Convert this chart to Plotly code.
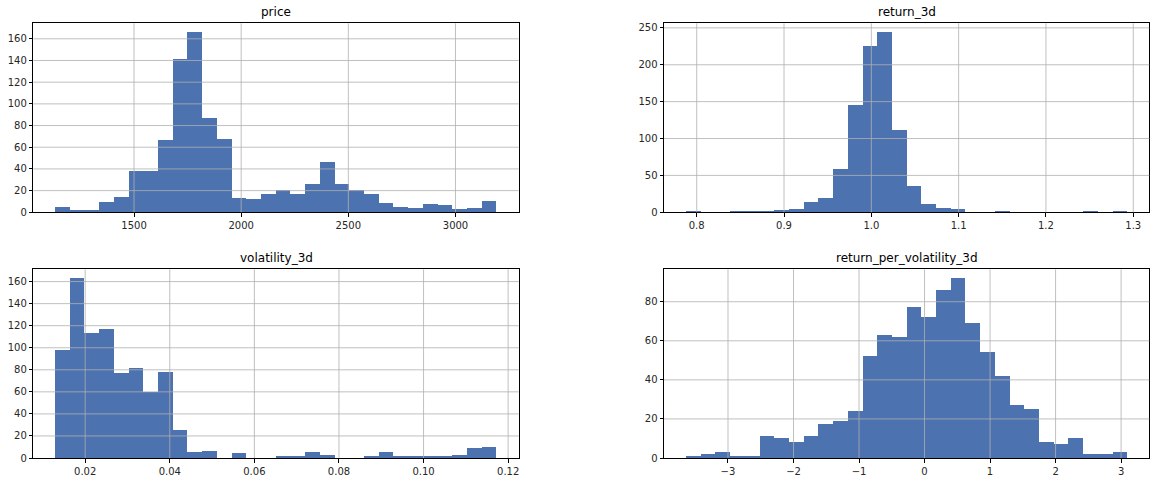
import numpy as np
import plotly.graph_objects as go

# ---- data (pandas-style 30-bin histograms) ----
price_range = [1133.0, 3192.0]
price_counts = [5, 1, 1, 9, 14, 38, 38, 66, 141, 166, 87, 67, 13, 12, 17,
                20, 17, 26, 46, 26, 20, 17, 8, 5, 4, 7, 6, 3, 4, 10]

return_range = [0.7878, 1.2931]
return_counts = [1, 0, 0, 1, 1, 1, 2, 4, 14, 19, 58, 145, 225, 244, 111,
                 35, 11, 5, 4, 0, 0, 1, 0, 0, 0, 0, 0, 1, 0, 1]

vol_range = [0.01295, 0.11728]
vol_counts = [98, 163, 113, 117, 77, 81, 60, 78, 25, 5, 6, 0, 4, 0, 0,
              1, 1, 5, 2, 0, 0, 1, 5, 1, 1, 1, 1, 2, 9, 10]

rpv_range = [-3.64, 3.094]
rpv_counts = [1, 2, 3, 1, 1, 11, 10, 8, 11, 17, 19, 24, 52, 63, 62,
              77, 72, 86, 92, 69, 54, 42, 27, 25, 8, 7, 10, 2, 2, 3]

titles = ["price", "return_3d", "volatility_3d", "return_per_volatility_3d"]

price_xticks = [1500, 2000, 2500, 3000]
price_xlabels = ["1500", "2000", "2500", "3000"]
price_yticks = [0, 20, 40, 60, 80, 100, 120, 140, 160]

return_xticks = [0.8, 0.9, 1.0, 1.1, 1.2, 1.3]
return_xlabels = ["0.8", "0.9", "1.0", "1.1", "1.2", "1.3"]
return_yticks = [0, 50, 100, 150, 200, 250]

vol_xticks = [0.02, 0.04, 0.06, 0.08, 0.10, 0.12]
vol_xlabels = ["0.02", "0.04", "0.06", "0.08", "0.10", "0.12"]
vol_yticks = [0, 20, 40, 60, 80, 100, 120, 140, 160]

rpv_xticks = [-3, -2, -1, 0, 1, 2, 3]
rpv_xlabels = ["\u22123", "\u22122", "\u22121", "0", "1", "2", "3"]
rpv_yticks = [0, 20, 40, 60, 80]

BAR = "#4c72b0"
GRID = "#b0b0b0"
FONT = "DejaVu Sans"

W, H = 1156, 482
# axes boxes in pixels (left, right, top, bottom)
boxes = [
    (33.3, 518.7, 23.3, 212.3),
    (664.0, 1149.3, 23.3, 212.3),
    (33.3, 518.7, 269.3, 458.0),
    (664.0, 1149.3, 269.3, 458.0),
]

panels = [
    (price_range, price_counts, price_xticks, price_xlabels, price_yticks),
    (return_range, return_counts, return_xticks, return_xlabels, return_yticks),
    (vol_range, vol_counts, vol_xticks, vol_xlabels, vol_yticks),
    (rpv_range, rpv_counts, rpv_xticks, rpv_xlabels, rpv_yticks),
]

fig = go.Figure()
shapes = []
annotations = []
layout_axes = {}

for i, (rng, counts, xt, xl, yt) in enumerate(panels):
    n = len(counts)
    edges = np.linspace(rng[0], rng[1], n + 1)
    centers = (edges[:-1] + edges[1:]) / 2
    width = edges[1] - edges[0]
    xa = "x" if i == 0 else f"x{i+1}"
    ya = "y" if i == 0 else f"y{i+1}"
    fig.add_trace(go.Bar(
        x=centers, y=counts, width=width, marker=dict(color=BAR, line=dict(width=0)),
        xaxis=xa, yaxis=ya, showlegend=False, hoverinfo="x+y"))

    span = rng[1] - rng[0]
    xr = [rng[0] - 0.05 * span, rng[1] + 0.05 * span]
    yr = [0, max(counts) * 1.05]
    l, r, t, b = boxes[i]
    xdom = [l / W, r / W]
    ydom = [(H - b) / H, (H - t) / H]

    axis_common = dict(
        showline=True, linecolor="black", linewidth=1, mirror=True,
        ticks="outside", ticklen=3.5, tickwidth=0.8, tickcolor="black",
        showgrid=False, zeroline=False, fixedrange=True,
        tickfont=dict(family=FONT, size=10, color="#262626"),
    )
    layout_axes["xaxis" if i == 0 else f"xaxis{i+1}"] = dict(
        axis_common, domain=xdom, range=xr, anchor=ya,
        tickmode="array", tickvals=xt, ticktext=xl)
    layout_axes["yaxis" if i == 0 else f"yaxis{i+1}"] = dict(
        axis_common, domain=ydom, range=yr, anchor=xa,
        tickmode="array", tickvals=yt, ticktext=[str(v) for v in yt])

    # grid lines drawn above bars (as in matplotlib's default)
    for v in xt:
        if xr[0] < v < xr[1]:
            shapes.append(dict(type="line", xref=xa, yref=f"{ya} domain",
                               x0=v, x1=v, y0=0, y1=1, layer="above",
                               line=dict(color=GRID, width=0.8)))
    for v in yt:
        if yr[0] < v < yr[1]:
            shapes.append(dict(type="line", xref=f"{xa} domain", yref=ya,
                               x0=0, x1=1, y0=v, y1=v, layer="above",
                               line=dict(color=GRID, width=0.8)))

    annotations.append(dict(
        text=titles[i], xref="paper", yref="paper",
        x=(xdom[0] + xdom[1]) / 2, y=ydom[1], xanchor="center", yanchor="bottom",
        yshift=2, showarrow=False,
        font=dict(family=FONT, size=12, color="black")))

fig.update_layout(
    width=W, height=H,
    margin=dict(l=0, r=0, t=0, b=0, autoexpand=False),
    paper_bgcolor="white", plot_bgcolor="white",
    bargap=0, barmode="overlay",
    shapes=shapes, annotations=annotations,
    font=dict(family=FONT, size=10, color="#262626"),
    **layout_axes,
)

fig.write_html(
    "out.html",
    config={"displayModeBar": False},
    post_script="document.body.style.margin='0';document.body.style.padding='0';document.body.style.overflow='hidden';",
)
